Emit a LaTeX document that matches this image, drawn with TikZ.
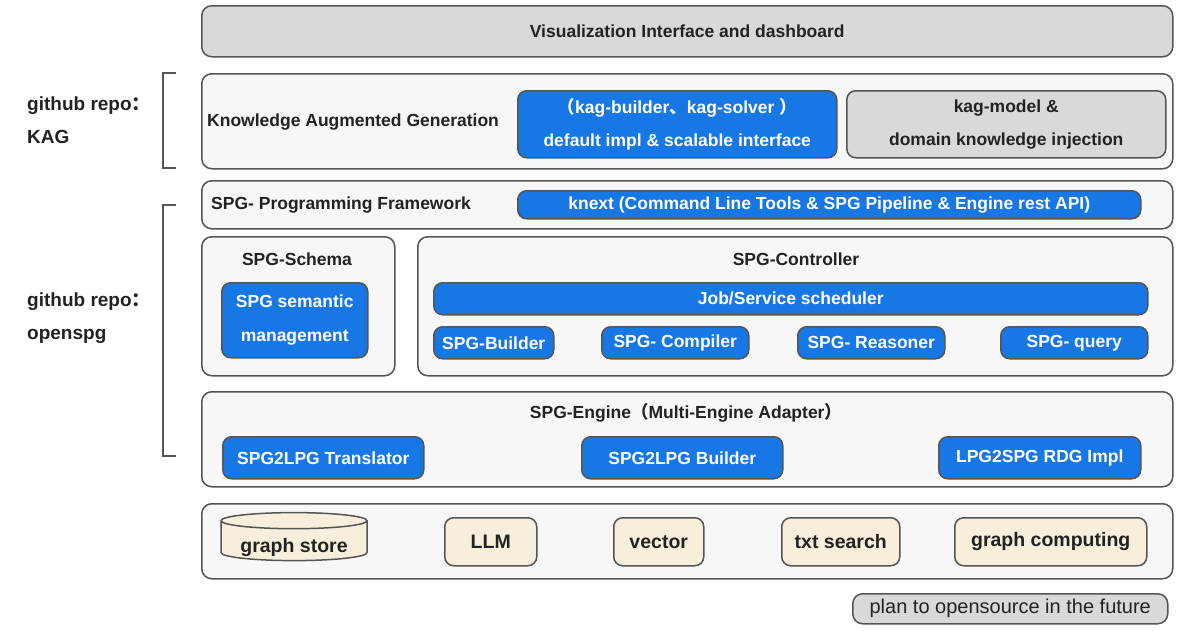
\documentclass[tikz,border=0pt]{standalone}
\usepackage{fontspec}
\setmainfont{Liberation Sans}
\newfontfamily\cjk{Noto Sans CJK SC}
\usetikzlibrary{shapes.geometric, positioning}

\definecolor{spgblue}{HTML}{1677E5}
\definecolor{boxgray}{HTML}{D9D9D9}
\definecolor{layerfill}{HTML}{F7F7F7}
\definecolor{edgegray}{HTML}{555555}
\definecolor{beige}{HTML}{F7EEDC}
\definecolor{txtdark}{HTML}{222222}

\begin{document}
\begin{tikzpicture}[x=1pt, y=-1pt,
    layer/.style={draw=edgegray, line width=1.5pt, rounded corners=10pt, fill=layerfill, anchor=north west, inner sep=0pt},
    title/.style={font=\fontsize{17.5}{20}\selectfont\bfseries, text=txtdark, inner sep=0pt},
    bluebox/.style={draw=edgegray, line width=1.5pt, rounded corners=9pt, fill=spgblue, text=white, anchor=north west, align=center, font=\fontsize{17.5}{33}\selectfont\bfseries, inner sep=0pt},
    graybox/.style={bluebox, fill=boxgray, text=txtdark},
    basebox/.style={bluebox, fill=beige, text=txtdark, font=\fontsize{19.5}{22}\selectfont\bfseries},
    repo/.style={anchor=west, align=left, font=\fontsize{19}{33}\selectfont\bfseries, text=txtdark, inner sep=0pt},
    bracket/.style={draw=edgegray, line width=2pt}
]
\fill[white] (0,0) rectangle (1200,630);
\useasboundingbox (0,0) rectangle (1200,630);

% Visualization layer
\node[layer, fill=boxgray, minimum width=971pt, minimum height=51pt, title] (viz) at (201,5) {Visualization Interface and dashboard};

% KAG layer
\node[layer, minimum width=971pt, minimum height=95pt] (kaglayer) at (201,73) {};
\node[title, anchor=west] (kagtitle) at (207,122) {Knowledge Augmented Generation};
\node[bluebox, minimum width=319pt, minimum height=67pt] (kagimpl) at (517,90) {{\cjk （}kag-builder{\cjk 、}kag-solver {\cjk ）}\\default impl \& scalable interface};
\node[graybox, minimum width=319pt, minimum height=67pt] (kagmodel) at (846,90) {kag-model \&\\domain knowledge injection};

% Programming framework layer
\node[layer, minimum width=971pt, minimum height=48pt] (framework) at (201,180) {};
\node[title, anchor=west] (frametitle) at (211,205) {SPG- Programming Framework};
\node[bluebox, minimum width=623pt, minimum height=28pt] (knext) at (517,190) {knext (Command Line Tools \& SPG Pipeline \& Engine rest API)};

% Schema and controller
\node[layer, minimum width=193pt, minimum height=139pt] (schema) at (201,236) {};
\node[title] (schematitle) at (297,259) {SPG-Schema};
\node[bluebox, minimum width=146pt, minimum height=75pt, font=\fontsize{17.5}{34}\selectfont\bfseries] (semantic) at (221,282) {SPG semantic\\management};

\node[layer, minimum width=755pt, minimum height=139pt] (controller) at (417,236) {};
\node[title] (ctrltitle) at (796,259) {SPG-Controller};
\node[bluebox, minimum width=714pt, minimum height=32pt] (scheduler) at (433,282) {Job/Service scheduler};
\node[bluebox, minimum width=120pt, minimum height=32pt] (builder) at (433,326) {SPG-Builder};
\node[bluebox, minimum width=147pt, minimum height=32pt] (compiler) at (601,326) {SPG- Compiler};
\node[bluebox, minimum width=147pt, minimum height=32pt] (reasoner) at (797,326) {SPG- Reasoner};
\node[bluebox, minimum width=147pt, minimum height=32pt] (query) at (1000,326) {SPG- query};

% Engine layer
\node[layer, minimum width=971pt, minimum height=95pt] (engine) at (201,391) {};
\node[title] (enginetitle) at (686,413) {SPG-Engine{\cjk （}Multi-Engine Adapter{\cjk ）}};
\node[bluebox, minimum width=201pt, minimum height=42pt] (translator) at (222,436) {SPG2LPG Translator};
\node[bluebox, minimum width=201pt, minimum height=42pt] (lpgbuilder) at (581,436) {SPG2LPG Builder};
\node[bluebox, minimum width=202pt, minimum height=42pt] (rdgimpl) at (938,436) {LPG2SPG RDG Impl};

% Base layer
\node[layer, minimum width=971pt, minimum height=75pt] (base) at (201,503) {};
\node[cylinder, shape border rotate=90, aspect=0.15, draw=edgegray, line width=1.5pt, fill=beige, text=txtdark,
      font=\fontsize{19.5}{22}\selectfont\bfseries, minimum width=146pt, minimum height=48pt, inner sep=0pt] (store) at (294,541) {\raisebox{-11pt}[0pt][0pt]{graph store}};
\node[basebox, minimum width=92pt, minimum height=48pt] (llm) at (444,517) {LLM};
\node[basebox, minimum width=90pt, minimum height=48pt] (vector) at (613,517) {vector};
\node[basebox, minimum width=118pt, minimum height=48pt] (txtsearch) at (781,517) {txt search};
\node[basebox, minimum width=192pt, minimum height=48pt] (computing) at (954,517) {graph computing};

% Legend
\node[graybox, font=\fontsize{20}{22}\selectfont, rounded corners=10pt, minimum width=315pt, minimum height=30pt] (legend) at (852,593) {plan to opensource in the future};

% Repo brackets
\draw[bracket] (176,73) -- (163,73) -- (163,168) -- (176,168);
\draw[bracket] (176,205) -- (163,205) -- (163,456) -- (176,456);
\node[repo] (kagrepo) at (27,120) {github repo{\cjk ：}\\KAG};
\node[repo] (spgrepo) at (27,318) {github repo{\cjk ：}\\openspg};

\end{tikzpicture}
\end{document}
